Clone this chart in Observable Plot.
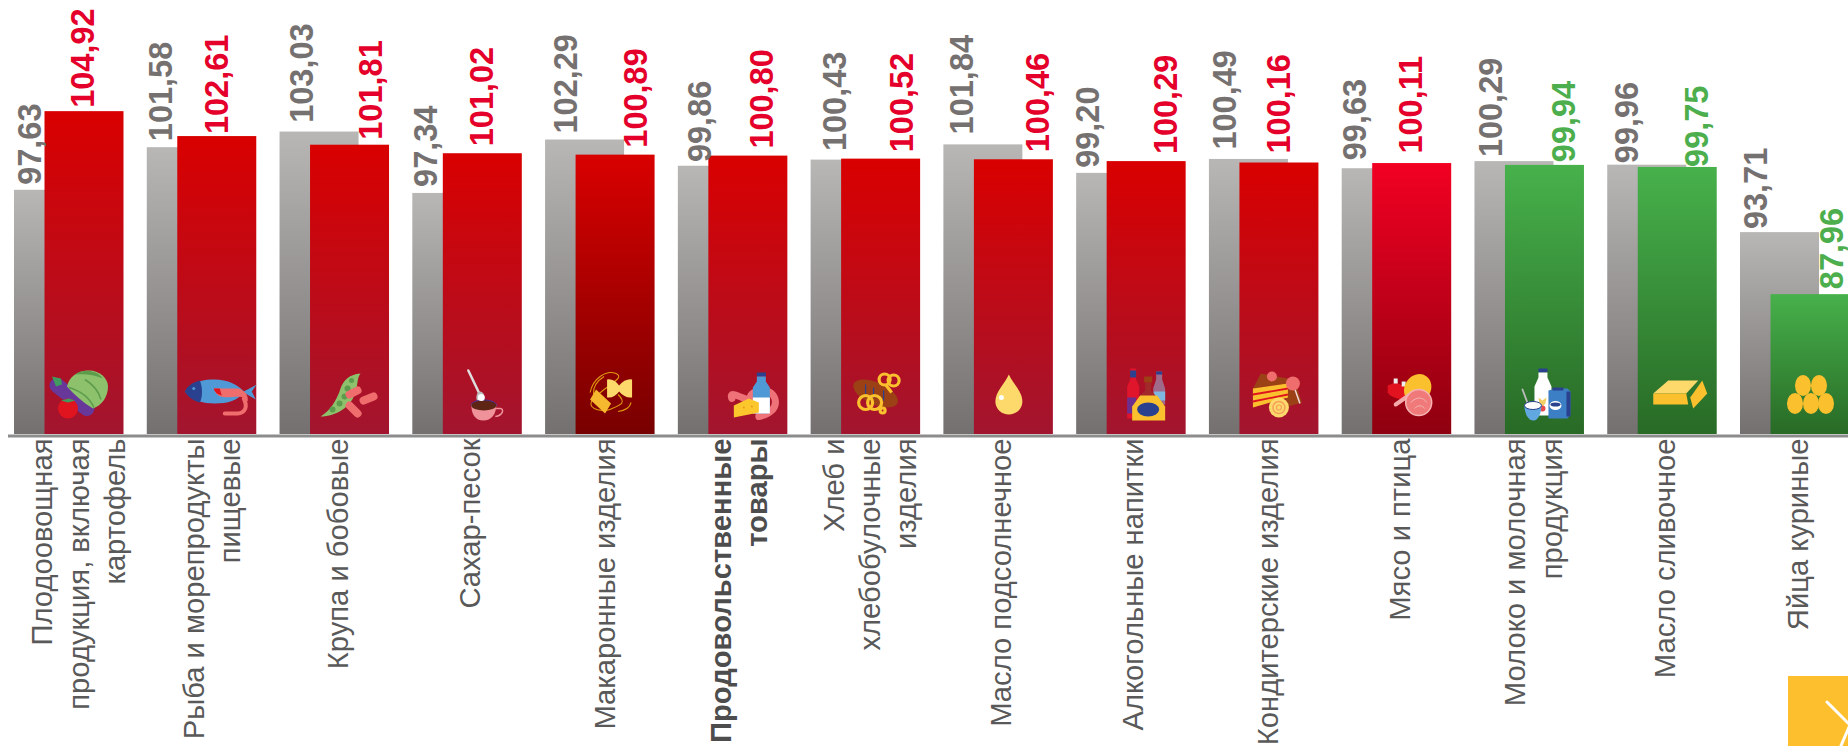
<!DOCTYPE html>
<html lang="ru"><head><meta charset="utf-8">
<script src="https://cdn.jsdelivr.net/npm/d3@7"></script>
<script src="https://cdn.jsdelivr.net/npm/@observablehq/plot@0.6"></script>
<style>
html,body{margin:0;padding:0;background:#fff;overflow:hidden;width:1848px;height:746px}
#chart{position:absolute;left:0;top:0}
#corner{position:absolute;left:1788px;top:676px;width:60px;height:70px;background:#fdbf2d;overflow:hidden}
</style></head><body>
<div id="chart"></div>
<div id="corner"><svg width="60" height="70"><path d="M39 26 L62 49 L52 72" fill="none" stroke="#fff" stroke-width="3" stroke-linecap="round"/></svg></div>
<script>
// Data
const categories = [
  "Плодоовощная\nпродукция, включая\nкартофель",
  "Рыба и морепродукты\nпищевые",
  "Крупа и бобовые",
  "Сахар-песок",
  "Макаронные изделия",
  "Продовольственные\nтовары",
  "Хлеб и\nхлебобулочные\nизделия",
  "Масло подсолнечное",
  "Алкогольные напитки",
  "Кондитерские изделия",
  "Мясо и птица",
  "Молоко и молочная\nпродукция",
  "Масло сливочное",
  "Яйца куриные"
];
const previous = [97.63,101.58,103.03,97.34,102.29,99.86,100.43,101.84,99.20,100.49,99.63,100.29,99.96,93.71];
const current  = [104.92,102.61,101.81,101.02,100.89,100.80,100.52,100.46,100.29,100.16,100.11,99.94,99.75,87.96];
const boldCategory = "Продовольственные\nтовары";

// Layout and style tweaks (never values)
const yBase = 75, yTop = 115.22, iconLevel = 78.8;
const barShift = 30.5;
const grayLabelDx = [-23.5,-25,-17,-26,-18,-17.5,-15,-21,-28,-23,-26,-23,-20,-23];
const redLabelDx  = [30,31,52,30,52,44.5,52,55,50,31,30,50,50,52.5];
const grayGap = [7,8,10.7,8,8,5.7,10.5,12,7,11.4,10,6,3.5,5];
const redGap  = [5.3,4,7,9,9,9,8.4,9,9,11,11.5,4.7,2,7];
const categoryDx = [23,23.5,16.5,16.5,18.5,19.5,17.5,16.5,15.5,17.5,16.5,17.5,16.5,16.5];
const barFill = ["redA","redA","redA","redA","redB","redA","redA","redA","redA","redA","redC","greenA","greenA","greenA"];

// Small pictograms, px-for-px in a 79×60 box sitting over each front bar
const Y="#fbc02d", LY="#fdd86b", BL="#4f9ad6", DB="#2a418f", BR="#9c4015", PK="#ef6d6d", GN="#8dc16b", DG="#5d9c4d";
const icons = [
 `<path d="M12 21L42 44" stroke="#67379a" stroke-width="15" stroke-linecap="round"/><path d="M7 12L11 22L17 20L16 14Z" fill="#3f9b5e"/>
  <path d="M22 22C24 12 33 6 44 6C55 6 63 14 63 22C63 32 57 41 48 44C38 38 29 30 22 22Z" fill="${GN}"/><path d="M30 10C36 5 50 4 58 14C50 10 38 9 30 10Z" fill="${DG}"/>
  <path d="M24 23C34 26 44 32 49 43M40 15C48 20 54 28 56 35" stroke="${DG}" stroke-width="1.5" fill="none"/>
  <circle cx="23" cy="44" r="10" fill="#e0141f"/><path d="M16 36L23 38L30 36L24 34Z" fill="#3f9b5e"/>`,
 `<path d="M7 27C15 16 27 15 37 15C50 15 60 20 66 27L79 20L74 27L78 35L66 28C60 36 50 39 37 39C25 39 14 36 7 27Z" fill="${BL}"/>
  <path d="M7 27C10 21 15 18 22 16C25 22 25 33 22 38C15 36 10 32 7 27Z" fill="${DB}"/><circle cx="16" cy="24" r="1.5" fill="${BL}"/>
  <path d="M36 24H60C66 25 71 30 70 37L66 33C62 31 48 34 43 32C40 31 37 28 36 24Z" fill="${PK}"/><path d="M36 24H42L44 31C40 30 37 28 36 24Z" fill="#e0141f"/>
  <path d="M66 34C70 42 68 48 60 49H47" stroke="${PK}" stroke-width="4" fill="none" stroke-linecap="round"/>`,
 `<path d="M10 52C20 46 26 36 30 24C33 16 38 10 50 9C46 14 48 20 44 30C40 42 26 52 10 52Z" fill="${GN}"/>
  <g fill="${DG}"><circle cx="22" cy="45" r="3"/><circle cx="29" cy="39" r="3"/><circle cx="34" cy="32" r="3"/><circle cx="37" cy="24" r="3"/><circle cx="41" cy="16" r="2.5"/></g>
  <g stroke="${PK}" stroke-width="8" stroke-linecap="round"><path d="M39 30L47 26"/><path d="M53 36L63 32"/><path d="M39 41L47 49"/></g>`,
 `<path d="M25 6L37 31" stroke="#ddd" stroke-width="2.5" stroke-linecap="round"/><ellipse cx="37" cy="33" rx="4" ry="6" fill="#bbb"/>
  <path d="M27 41C29 33 52 33 54 41" fill="#4b2f9a"/><path d="M52 44h5c4 0 3 7-5 8" fill="none" stroke="#f0929a" stroke-width="1.5"/>
  <path d="M28 40H53C53 50 48 56 40 56C32 56 28 50 28 40Z" fill="#f0929a"/><ellipse cx="40.500" cy="41" rx="12.500" ry="5" fill="#5e2414"/><circle cx="38" cy="33" r="3.500" fill="#fff"/>`,
 `<path d="M14 28C17 14 30 5 40 9C50 14 30 20 16 36C10 46 30 48 36 44C46 40 50 38 42 30M28 12C12 22 16 38 28 44M42 47C50 46 54 42 55 38" fill="none" stroke="#e09a10" stroke-width="1.100"/>
  <path d="M31 15Q38 14 43 21Q49 14 56 15V33Q49 34 43 27Q38 34 31 33Z" fill="${LY}"/><path d="M20 25L35 39L29 49L14 35Z" fill="#f5b82e"/>`,
 `<path d="M23 34C20 26 30 32 40 36M41 34C42 24 62 22 66 34C69 44 60 50 50 52" fill="none" stroke="#ee7278" stroke-width="7" stroke-linecap="round"/>
  <rect x="48" y="8" width="9" height="4" fill="${DB}"/><path d="M48 12H57V17L61 23V46C61 49 59 49 57 49H48C46 49 44 49 44 46V23L48 17Z" fill="${BL}"/><rect x="44" y="33" width="17" height="16" fill="#fff"/>
  <path d="M25 41L40 34L50 38V48L25 53Z" fill="#fcc62d"/><circle cx="35" cy="43" r="1" fill="#e79b1a"/><circle cx="43" cy="42" r="1" fill="#e79b1a"/>`,
 `<ellipse cx="34" cy="29" rx="24" ry="11" transform="rotate(24 34 29)" fill="${BR}"/><path d="M24 20V30M32 23V33M42 26V36" stroke="${DB}" stroke-width="1.200"/>
  <g fill="none" stroke="${Y}" stroke-width="3.200"><circle cx="24" cy="38" r="7"/><circle cx="33" cy="38" r="7"/><circle cx="41" cy="46" r="2.500"/><circle cx="43" cy="15" r="5.500"/><circle cx="52" cy="16" r="5.500"/><path d="M44 20L50 28"/></g>`,
 `<path d="M34.500 10C30 20 21 27 21 37A13.500 13 0 0 0 48 37C48 27 39 20 34.500 10Z" fill="${LY}"/><circle cx="27" cy="33" r="2.500" fill="#fff"/>`,
 `<path d="M23 4H29V15L32 22V54H20V22L23 15Z" fill="#e0142a"/><path d="M20 33H29V49H20Z" fill="#6b2f90"/><rect x="23" y="6" width="6" height="7" fill="${DB}"/>
  <path d="M49 7H55V15L58 24V40H46V24L49 15Z" fill="#a06a8a"/><rect x="47" y="27" width="11" height="9" fill="#7fb6e0"/><rect x="49" y="7" width="6" height="3" fill="${DB}"/>
  <rect x="37" y="12" width="8" height="6" fill="${BR}"/><path d="M38 18H44V26L50 33H31L38 26Z" fill="#a32a2a"/>
  <path d="M33 31H50L58 42V56H25V42Z" fill="${Y}"/><ellipse cx="41" cy="45" rx="11" ry="7" fill="${DB}"/>`,
 `<path d="M40 14L56 20L62 38L48 42Z" fill="${BR}"/><path d="M13 24L21 9L48 14V19Z" fill="${BR}"/><circle cx="32" cy="12" r="5" fill="${PK}"/>
  <path d="M13 24L48 19V33L13 43Z" fill="${Y}"/><path d="M13 30L48 24M13 37L48 30" stroke="#e0141f" stroke-width="1.800"/>
  <path d="M53 19L60 39" stroke="#f3d9d9" stroke-width="1.500"/><circle cx="53" cy="19" r="7" fill="${PK}"/>
  <circle cx="39" cy="43" r="10" fill="${LY}"/><circle cx="39" cy="43" r="6" fill="none" stroke="#f5a05a" stroke-width="1.500"/><circle cx="39" cy="43" r="2.500" fill="none" stroke="#f5a05a" stroke-width="1.200"/>`,
 `<path d="M15 21L23 18L37 24L35 34C28 36 18 33 15 28Z" fill="#e3121f"/><rect x="21" y="14" width="4" height="5" fill="#eee"/><rect x="29" y="17" width="4" height="5" fill="#eee"/>
  <ellipse cx="45" cy="24" rx="13" ry="15" transform="rotate(35 45 24)" fill="${Y}"/><path d="M23 40L36 31" stroke="#f3a9a9" stroke-width="4" stroke-linecap="round"/>
  <circle cx="46" cy="38" r="13" fill="#f07a7a" stroke="#f6b3b3" stroke-width="1.500"/><path d="M38 38C44 32 50 32 54 38M42 44C45 40 50 41 52 44" fill="none" stroke="#f6b3b3"/>`,
 `<path d="M17 25L23 41" stroke="#bbb" stroke-width="1.800" stroke-linecap="round"/>
  <rect x="33" y="4" width="9" height="4" fill="${DB}"/><path d="M33 8H42V13L46 22V51H29V22L33 13Z" fill="#fff"/><path d="M33 33L37 36L41 33L40 39L37 42L34 39Z" fill="#f2cf64"/><circle cx="37" cy="44" r="3" fill="#e84a4a"/>
  <path d="M43 26L50 24H62L65 27V50L62 54L43 54Z" fill="#3d7fc4"/><rect x="47" y="23" width="11" height="3" fill="${DB}"/><rect x="61" y="27" width="4" height="25" fill="${DB}"/><ellipse cx="50" cy="41" rx="6" ry="4.500" fill="#fff"/><ellipse cx="50" cy="40" rx="5" ry="2" fill="${DB}"/>
  <path d="M19 41C19 48 22 56 28 56C33 56 36 48 36 41Z" fill="#62a8e0"/><ellipse cx="27.500" cy="41" rx="8.500" ry="4" fill="#fff" stroke="${DB}" stroke-width="1"/>`,
 `<path d="M15 29L30 16H60L48 29Z" fill="${LY}"/><path d="M15 29H48L50 40H15Z" fill="${Y}"/><path d="M52 33L64 16L69 29L55 44Z" fill="${Y}"/>`,
 `<g fill="${Y}"><ellipse cx="32" cy="21" rx="8" ry="10.500"/><ellipse cx="48" cy="21" rx="8" ry="10.500"/><ellipse cx="24" cy="39" rx="8" ry="10.500"/><ellipse cx="40" cy="39" rx="8" ry="10.500"/><ellipse cx="55" cy="39" rx="8" ry="10.500"/></g>`
];
const iconUrl = body => "data:image/svg+xml," + encodeURIComponent(
  `<svg xmlns="http://www.w3.org/2000/svg" width="79" height="60" viewBox="0 0 79 60">${body}</svg>`);

const rows = categories.map((cat,i)=>({cat, prev:previous[i], cur:current[i], i,
  label:d3.format(".2f")(current[i]).replace(".",","), prevLabel:d3.format(".2f")(previous[i]).replace(".",","),
  grow:current[i]>=100, fill:`url(#${barFill[i]})`, icon:iconUrl(icons[i])}));

const labelFont = {fontFamily:"'Liberation Sans',Arial,sans-serif"};
const valueStyle = {...labelFont, fontSize:32.5, fontWeight:700, rotate:-90, textAnchor:"start", lineAnchor:"middle"};

const defs = () => {
  const stops = {grayA:["#b8b7b5","#747070"],redA:["#d90000","#a2152f"],redB:["#d90000","#780000"],redC:["#f20022","#8e000f"],greenA:["#47b14b","#286a26"]};
  const ns="http://www.w3.org/2000/svg", d=document.createElementNS(ns,"defs");
  for (const [id,[a,b]] of Object.entries(stops)) {
    const g=document.createElementNS(ns,"linearGradient");
    g.setAttribute("id",id); g.setAttribute("x1",0); g.setAttribute("x2",0); g.setAttribute("y1",0); g.setAttribute("y2",1);
    [[0,a],[1,b]].forEach(([o,c])=>{const s=document.createElementNS(ns,"stop");s.setAttribute("offset",o);s.setAttribute("stop-color",c);g.appendChild(s);});
    d.appendChild(g);
  }
  return d;
};

const chart = Plot.plot({
  width:1848, height:746,
  marginLeft:8, marginRight:0, marginTop:0, marginBottom:312,
  style:{background:"transparent",overflow:"hidden"},
  x:{type:"band", domain:categories, range:[14,1819], paddingInner:0.405, paddingOuter:0, align:0.5, round:false, axis:null},
  y:{domain:[yBase,yTop], axis:null},
  marks:[
    defs,
    Plot.barY(rows,{x:"cat", y1:yBase, y2:"prev", fill:"url(#grayA)"}),
    ...rows.map(r=>Plot.barY([r],{x:"cat", y1:yBase, y2:"cur", fill:r.fill, dx:barShift})),
    Plot.image(rows,{x:"cat", y:iconLevel, width:79, height:60, src:"icon", dx:barShift, dy:1}),
    Plot.ruleY([yBase],{stroke:"#8c8c8c", strokeWidth:3, dy:1.5}),
    ...rows.map((r,i)=>Plot.text([r],{...valueStyle, x:"cat", y:"prev", text:"prevLabel", fill:"#767171", dx:grayLabelDx[i], dy:-(grayGap[i]-1.5)})),
    ...rows.map((r,i)=>Plot.text([r],{...valueStyle, x:"cat", y:"cur", text:"label", fill:r.grow?"#e4002b":"#4cae4c", dx:redLabelDx[i], dy:-(redGap[i]-1.5)})),
    ...rows.map((r,i)=>Plot.text([r],{...labelFont, x:"cat", y:yBase, text:"cat", rotate:-90, textAnchor:"end", lineAnchor:"middle",
      lineHeight:1.24, fontSize:29.2, fill:r.cat===boldCategory?"#4d4d4d":"#595959", fontWeight:r.cat===boldCategory?700:400, dx:categoryDx[i], dy:4}))
  ]
});
document.getElementById("chart").appendChild(chart);
</script></body></html>
